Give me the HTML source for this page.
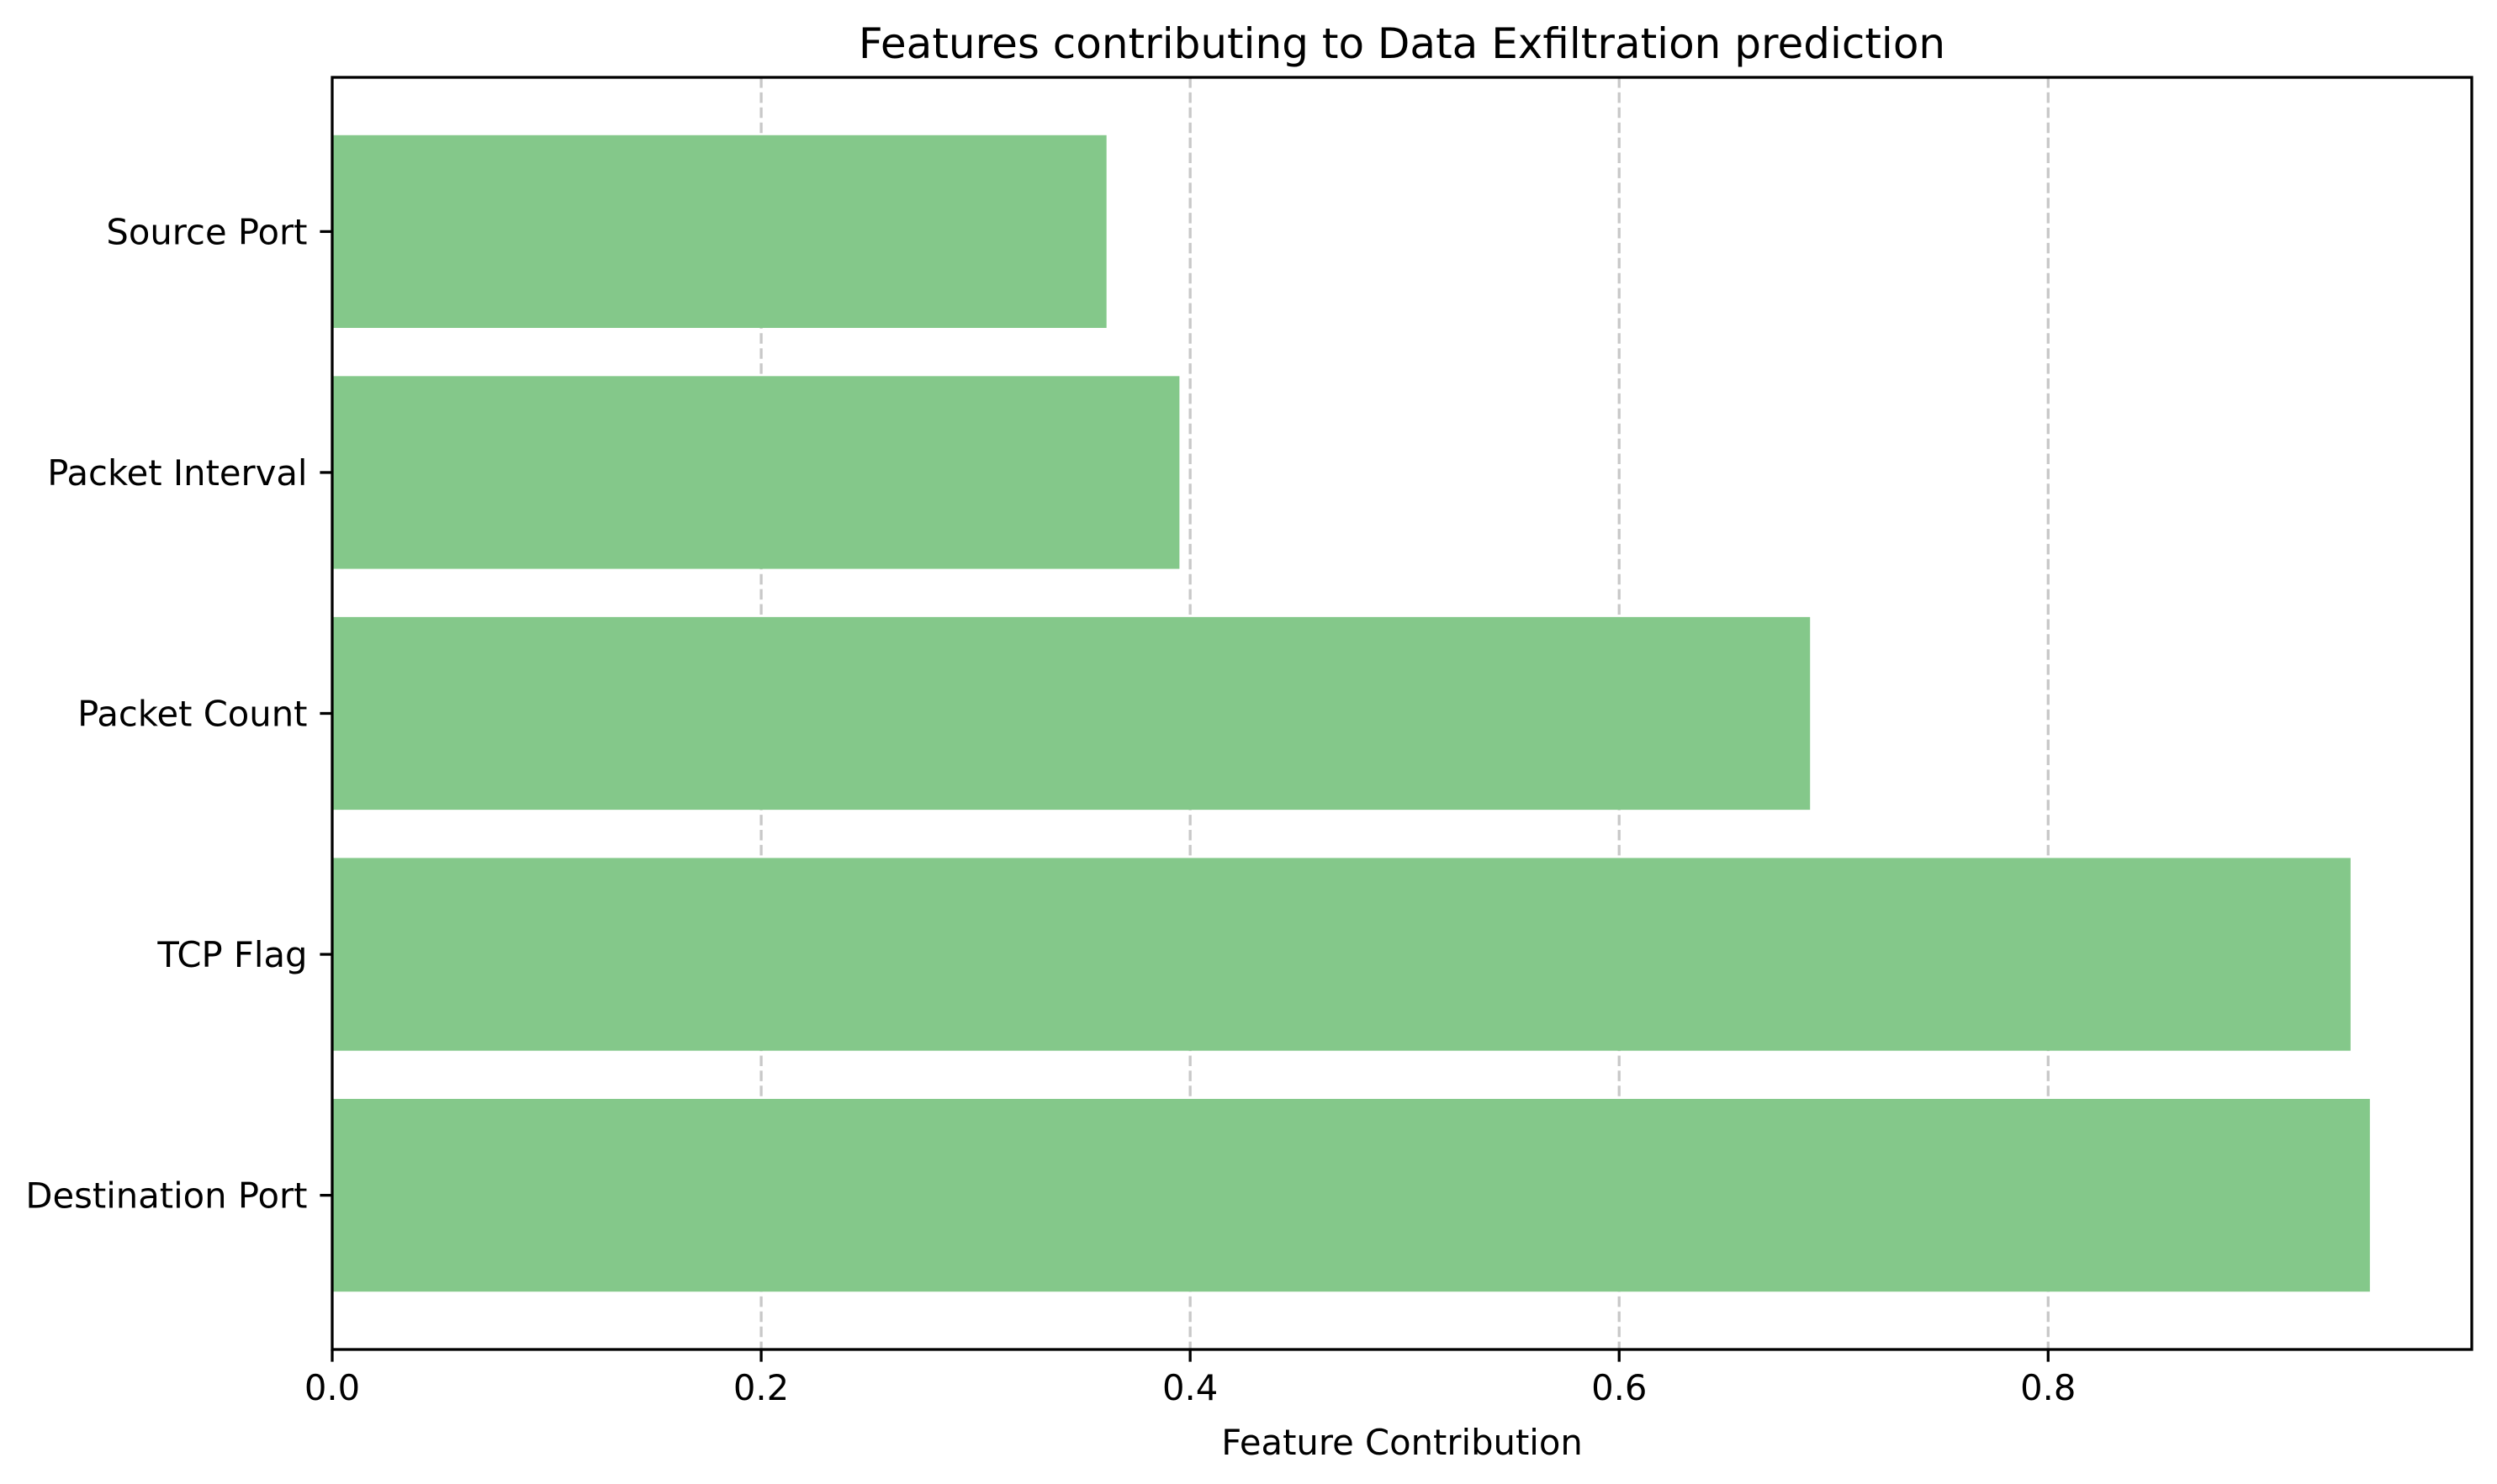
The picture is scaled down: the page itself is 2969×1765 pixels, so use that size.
<!DOCTYPE html>
<html><head><meta charset="utf-8"><style>
html,body{margin:0;padding:0;background:#fff;}
svg{display:block;font-family:"DejaVu Sans","Liberation Sans",sans-serif;}
</style></head><body>
<svg id="chart" width="2969" height="1765" viewBox="0 0 2969 1765">
<rect width="2969" height="1765" fill="#fff"/>
<g id="grid"></g>
<g id="bars"></g>
<g id="axes"></g>
<text x="1667" y="69" font-size="50" text-anchor="middle">Features contributing to Data Exfiltration prediction</text>
<text x="1667" y="1730" font-size="41.7" text-anchor="middle">Feature Contribution</text>
</svg>
<script>
const categories = ["Destination Port","TCP Flag","Packet Count","Packet Interval","Source Port"];
const values = [0.950,0.941,0.689,0.395,0.361];
const xTicks = [0,0.2,0.4,0.6,0.8];
const xTickLabels = ["0.0","0.2","0.4","0.6","0.8"];

const L=395,R=2939,T=92,B=1605;
const xmax=Math.max(...values)*1.05;
const ymin=-0.64, ymax=categories.length-1+0.64;
const xs=v=>L+(v/xmax)*(R-L);
const ys=v=>B-(v-ymin)/(ymax-ymin)*(B-T);
const NS="http://www.w3.org/2000/svg";
function mk(tag,attrs,parent){const e=document.createElementNS(NS,tag);for(const k in attrs)e.setAttribute(k,attrs[k]);parent.appendChild(e);return e;}
const grid=document.getElementById('grid'),bars=document.getElementById('bars'),axes=document.getElementById('axes');
xTicks.forEach((t,i)=>{
  if(t>0){const g=mk('line',{x1:xs(t),x2:xs(t),y1:T,y2:B,stroke:'#b0b0b0','stroke-opacity':0.7,'stroke-width':3.3,'stroke-dasharray':'12.5,5.4'},grid);
  
  }
  const tk=mk('line',{x1:xs(t),x2:xs(t),y1:B,y2:B+14.6,stroke:'#000','stroke-width':3.3},axes);
  
  
  const tx=mk('text',{x:xs(t),y:1665,'font-size':41.7,'text-anchor':'middle'},axes);
  tx.textContent=xTickLabels[i];
  
  
});
categories.forEach((c,i)=>{
  const r=mk('rect',{x:L,y:ys(i+0.4),width:xs(values[i])-L,height:ys(i-0.4)-ys(i+0.4),fill:'#84c88a'},bars);
  
  
  const tk=mk('line',{x1:L-14.6,x2:L,y1:ys(i),y2:ys(i),stroke:'#000','stroke-width':3.3},axes);
  
  
  const tx=mk('text',{x:L-29.5,y:ys(i)+15,'font-size':41.7,'text-anchor':'end'},axes);
  tx.textContent=c;
  
  
});
const frame=mk('rect',{x:L,y:T,width:R-L,height:B-T,fill:'none',stroke:'#000','stroke-width':3.3},axes);


</script>
</body></html>
